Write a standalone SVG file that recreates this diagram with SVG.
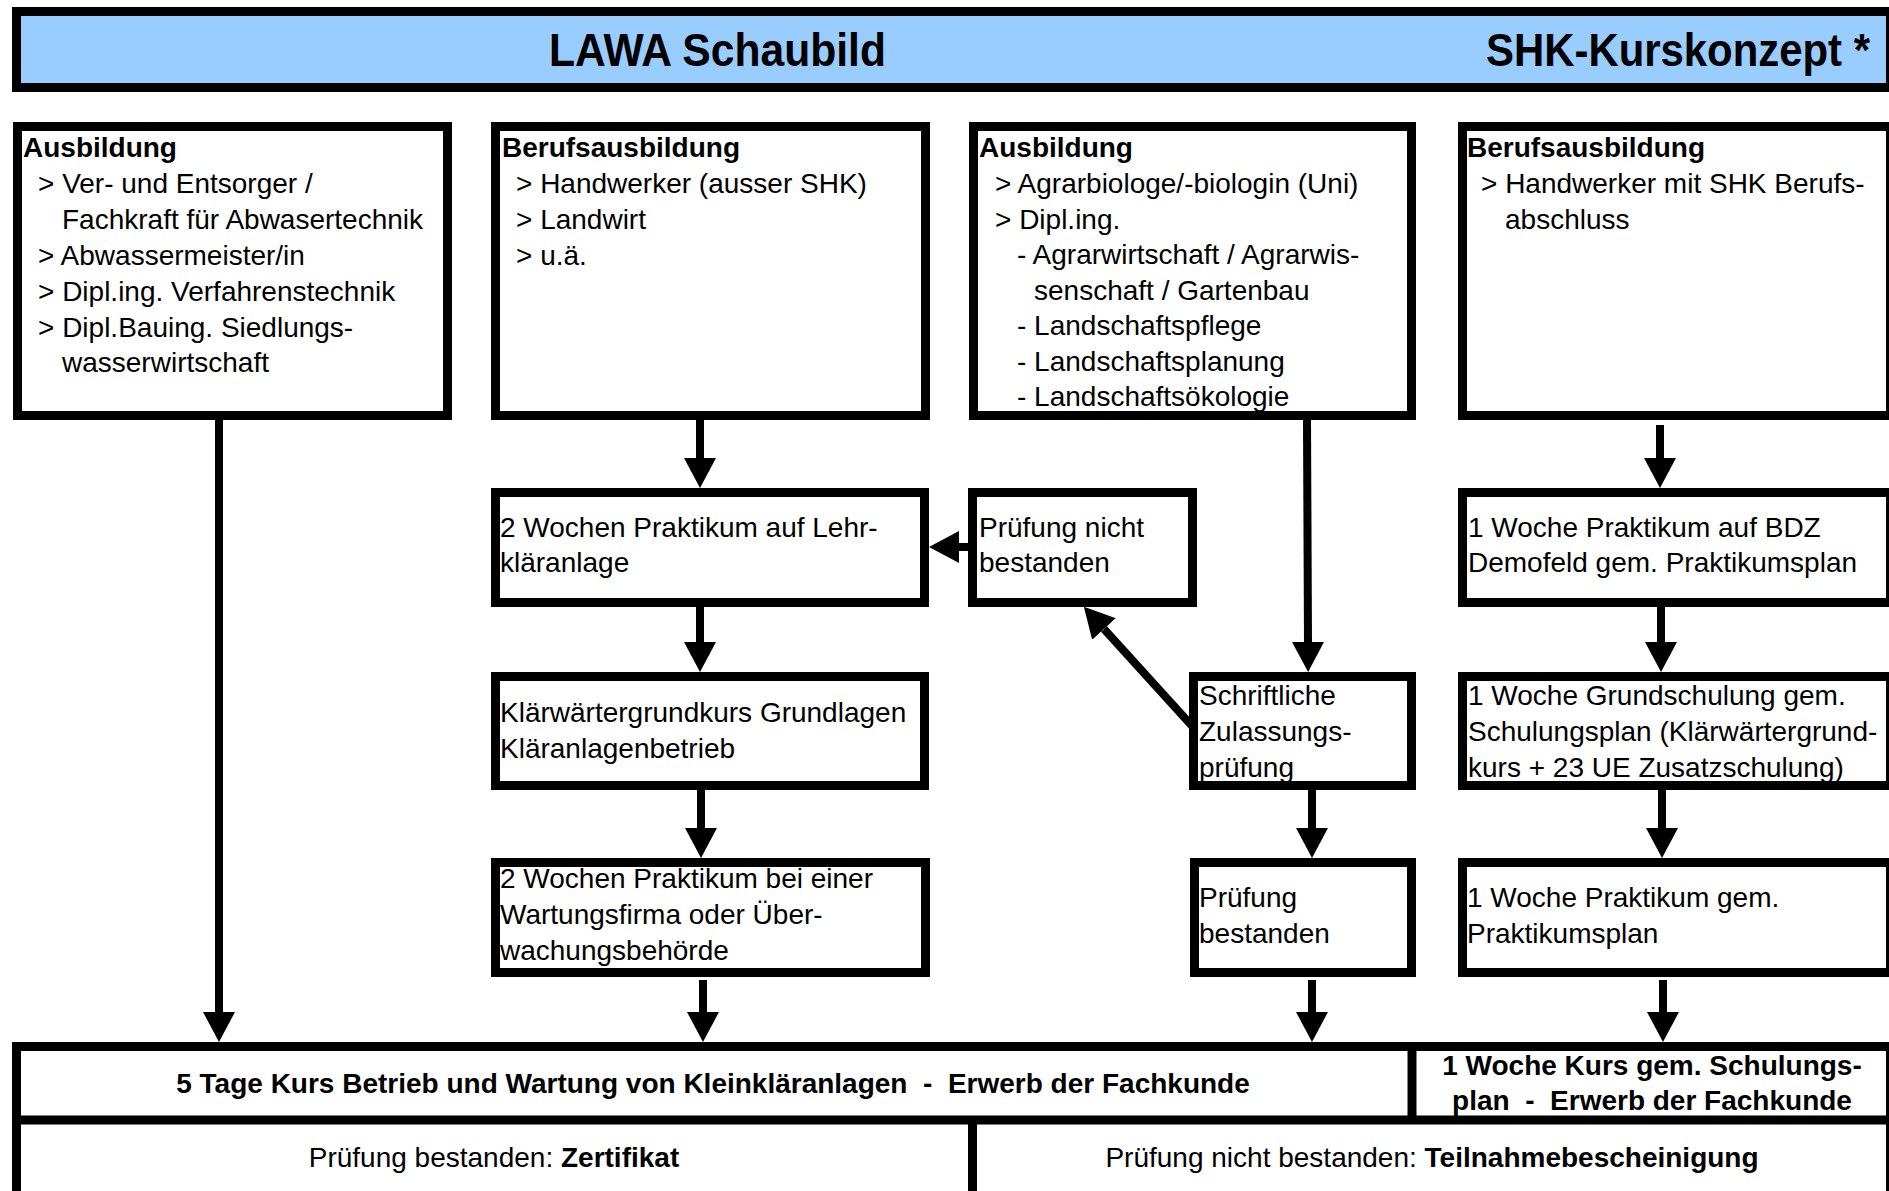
<svg xmlns="http://www.w3.org/2000/svg" width="1889" height="1191" viewBox="0 0 1889 1191">
<style>
text{font-family:"Liberation Sans",Arial,sans-serif;font-size:28px;fill:#000}
.b{font-weight:bold}
.h{font-weight:bold;font-size:47px}
.c{text-anchor:middle}
.box{fill:#fff;stroke:#000;stroke-width:9}
.hdr{fill:#99CCFF;stroke:#000;stroke-width:9}
.ln{stroke:#000;stroke-width:9;fill:none}
.ar{stroke:#000;stroke-width:8;fill:none;marker-end:url(#ah)}
</style>
<defs>
<marker id="ah" viewBox="0 -16 30 32" refX="0" refY="0" markerWidth="30" markerHeight="32" markerUnits="userSpaceOnUse" orient="auto">
<path d="M0,-16 L30,0 L0,16 z" fill="#000"/>
</marker>
</defs>
<rect width="1889" height="1191" fill="#fff"/>

<g id="header">
<rect class="hdr" x="16.5" y="11.5" width="1874" height="76"/>
<text class="h" x="549" y="66" textLength="337" lengthAdjust="spacingAndGlyphs">LAWA Schaubild</text>
<text class="h" x="1486" y="66" textLength="384" lengthAdjust="spacingAndGlyphs">SHK-Kurskonzept *</text>
</g>

<g id="box-ausbildung-1">
<rect class="box" x="17.5" y="126.5" width="430" height="289"/>
<text class="b" x="23" y="157">Ausbildung</text>
<text x="38" y="193">&gt; Ver- und Entsorger /</text>
<text x="62" y="228.5">Fachkraft für Abwasertechnik</text>
<text x="38" y="264.5">&gt; Abwassermeister/in</text>
<text x="38" y="300.5">&gt; Dipl.ing. Verfahrenstechnik</text>
<text x="38" y="336.5">&gt; Dipl.Bauing. Siedlungs-</text>
<text x="62" y="372">wasserwirtschaft</text>
</g>

<g id="box-berufsausbildung-1">
<rect class="box" x="495.5" y="126.5" width="430" height="289"/>
<text class="b" x="502" y="157">Berufsausbildung</text>
<text x="516" y="193">&gt; Handwerker (ausser SHK)</text>
<text x="516" y="228.5">&gt; Landwirt</text>
<text x="516" y="264.5">&gt; u.ä.</text>
</g>

<g id="box-ausbildung-2">
<rect class="box" x="973.5" y="126.5" width="438" height="289"/>
<text class="b" x="979" y="157">Ausbildung</text>
<text x="995" y="193">&gt; Agrarbiologe/-biologin (Uni)</text>
<text x="995" y="228.5">&gt; Dipl.ing.</text>
<text x="1017" y="264">- Agrarwirtschaft / Agrarwis-</text>
<text x="1034" y="300">senschaft / Gartenbau</text>
<text x="1017" y="335">- Landschaftspflege</text>
<text x="1017" y="370.5">- Landschaftsplanung</text>
<text x="1017" y="406">- Landschaftsökologie</text>
</g>

<g id="box-berufsausbildung-2">
<rect class="box" x="1462.5" y="126.5" width="428" height="289"/>
<text class="b" x="1467" y="157">Berufsausbildung</text>
<text x="1481" y="193">&gt; Handwerker mit SHK Berufs-</text>
<text x="1505" y="228.5">abschluss</text>
</g>

<g id="box-praktikum-lehr">
<rect class="box" x="495.5" y="492.5" width="429" height="110"/>
<text x="500" y="537">2 Wochen Praktikum auf Lehr-</text>
<text x="500" y="572">kläranlage</text>
</g>

<g id="box-pruefung-nicht">
<rect class="box" x="972.5" y="492.5" width="220" height="110"/>
<text x="979" y="537">Prüfung nicht</text>
<text x="979" y="572">bestanden</text>
</g>

<g id="box-praktikum-bdz">
<rect class="box" x="1462.5" y="492.5" width="428" height="110"/>
<text x="1468" y="537">1 Woche Praktikum auf BDZ</text>
<text x="1468" y="572">Demofeld gem. Praktikumsplan</text>
</g>

<g id="box-klaerwaerter">
<rect class="box" x="495.5" y="676.5" width="429" height="109"/>
<text x="500" y="722">Klärwärtergrundkurs Grundlagen</text>
<text x="500" y="758">Kläranlagenbetrieb</text>
</g>

<g id="box-schriftliche">
<rect class="box" x="1193.5" y="676.5" width="218" height="109"/>
<text x="1199" y="705">Schriftliche</text>
<text x="1199" y="741">Zulassungs-</text>
<text x="1199" y="777">prüfung</text>
</g>

<g id="box-grundschulung">
<rect class="box" x="1462.5" y="676.5" width="428" height="109"/>
<text x="1468" y="705">1 Woche Grundschulung gem.</text>
<text x="1468" y="741">Schulungsplan (Klärwärtergrund-</text>
<text x="1468" y="777">kurs + 23 UE Zusatzschulung)</text>
</g>

<g id="box-praktikum-wartung">
<rect class="box" x="495.5" y="862.5" width="430" height="110"/>
<text x="500" y="888">2 Wochen Praktikum bei einer</text>
<text x="500" y="924">Wartungsfirma oder Über-</text>
<text x="500" y="960">wachungsbehörde</text>
</g>

<g id="box-pruefung-bestanden">
<rect class="box" x="1194.5" y="862.5" width="217" height="110"/>
<text x="1199" y="907">Prüfung</text>
<text x="1199" y="943">bestanden</text>
</g>

<g id="box-praktikum-gem">
<rect class="box" x="1462.5" y="862.5" width="428" height="110"/>
<text x="1467" y="907">1 Woche Praktikum gem.</text>
<text x="1467" y="943">Praktikumsplan</text>
</g>

<g id="box-kurs">
<rect class="box" x="16.5" y="1046.5" width="1874" height="200"/>
<line class="ln" x1="16" y1="1120" x2="1891" y2="1120"/>
<line class="ln" x1="1412" y1="1046" x2="1412" y2="1120"/>
<line class="ln" x1="972.5" y1="1120" x2="972.5" y2="1200"/>
<text class="b c" x="713" y="1093" xml:space="preserve">5 Tage Kurs Betrieb und Wartung von Kleinkläranlagen  -  Erwerb der Fachkunde</text>
<text class="b c" x="1652" y="1075">1 Woche Kurs gem. Schulungs-</text>
<text class="b c" x="1652" y="1110" xml:space="preserve">plan  -  Erwerb der Fachkunde</text>
<text class="c" x="494" y="1167">Prüfung bestanden: <tspan class="b">Zertifikat</tspan></text>
<text class="c" x="1432" y="1167">Prüfung nicht bestanden: <tspan class="b">Teilnahmebescheinigung</tspan></text>
</g>

<g id="connectors">
<line class="ar" x1="219" y1="420" x2="219" y2="1012"/>
<line class="ar" x1="700" y1="420" x2="700" y2="458"/>
<line class="ar" x1="700" y1="607" x2="700" y2="642"/>
<line class="ar" x1="701" y1="790" x2="701" y2="828"/>
<line class="ar" x1="703" y1="980" x2="703" y2="1012"/>
<line class="ar" x1="970" y1="547" x2="959" y2="547"/>
<line class="ar" x1="1193" y1="727" x2="1104" y2="629"/>
<line class="ar" x1="1307" y1="420" x2="1308" y2="642"/>
<line class="ar" x1="1312" y1="790" x2="1312" y2="828"/>
<line class="ar" x1="1312" y1="980" x2="1312" y2="1012"/>
<line class="ar" x1="1660" y1="425" x2="1660" y2="458"/>
<line class="ar" x1="1661" y1="607" x2="1661" y2="642"/>
<line class="ar" x1="1662" y1="790" x2="1662" y2="828"/>
<line class="ar" x1="1663" y1="980" x2="1663" y2="1012"/>
</g>
</svg>
